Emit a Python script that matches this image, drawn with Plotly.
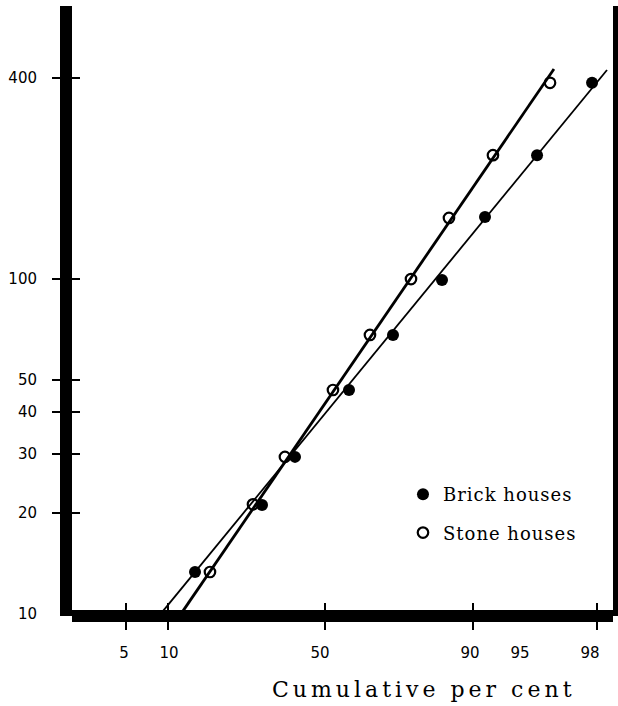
import plotly.graph_objects as go

# ---- data (x in normal-score units of probability paper, y = value on log scale)
brick_z = [-1.061, -0.514, -0.245, 0.196, 0.555, 0.955, 1.306, 1.731, 2.180]
brick_v = [13.3, 21.1, 29.4, 46.6, 68.1, 99.5, 153.5, 235, 387]
stone_z = [-0.939, -0.588, -0.327, 0.065, 0.367, 0.702, 1.012, 1.371, 1.837]
stone_v = [13.3, 21.2, 29.4, 46.6, 68.1, 100.1, 152.5, 235, 387]

# fitted straight lines
brick_fit_z = [-1.338, 2.302]
brick_fit_v = [10, 422.7]
stone_fit_z = [-1.173, 1.869]
stone_fit_v = [10, 425.6]

# axis labelling (probability paper)
x_label_pos = [-1.641, -1.273, -0.041, 1.184, 1.592, 2.163]
x_label_text = ["5", "10", "50", "90", "95", "98"]
x_tick_pos = [-1.624, -1.282, 0.0, 1.208, 2.220]
y_label_vals = [10, 20, 30, 40, 50, 100, 400]
y_label_text = ["10", "20", "30", "40", "50", "100", "400"]
y_tick_vals = [20, 30, 40, 50, 100, 400]

X_RANGE = [-2.0653, 2.351]
Y_RANGE = [0.99222, 2.81747]

fig = go.Figure()

fig.add_trace(go.Scatter(x=brick_fit_z, y=brick_fit_v, mode="lines",
                         line=dict(color="black", width=1.8), showlegend=False,
                         hoverinfo="skip"))
fig.add_trace(go.Scatter(x=stone_fit_z, y=stone_fit_v, mode="lines",
                         line=dict(color="black", width=2.8), showlegend=False,
                         hoverinfo="skip"))
fig.add_trace(go.Scatter(x=brick_z, y=brick_v, mode="markers",
                         name='<span style="letter-spacing:1px">Brick houses</span>',
                         legendgroup="a",
                         marker=dict(symbol="circle", size=12, color="black",
                                     line=dict(width=0))))
fig.add_trace(go.Scatter(x=stone_z, y=stone_v, mode="markers",
                         name='<span style="letter-spacing:1px">Stone houses</span>',
                         legendgroup="b",
                         marker=dict(symbol="circle-open", size=10.5, color="black",
                                     line=dict(width=2.2, color="black"))))

# empty traces so overlay axes exist
fig.add_trace(go.Scatter(x=[], y=[], xaxis="x2", yaxis="y", showlegend=False))
fig.add_trace(go.Scatter(x=[], y=[], xaxis="x3", yaxis="y", showlegend=False))
fig.add_trace(go.Scatter(x=[], y=[], xaxis="x", yaxis="y2", showlegend=False))
fig.add_trace(go.Scatter(x=[], y=[], xaxis="x", yaxis="y3", showlegend=False))

tickfont = dict(family="DejaVu Sans", size=15, color="black")
common = dict(showgrid=False, zeroline=False, showline=True, linewidth=12,
              linecolor="black", tickwidth=2)

fig.update_layout(
    width=618, height=706,
    margin=dict(l=72, r=5, t=6, b=90, autoexpand=False),
    paper_bgcolor="white", plot_bgcolor="white",
    showlegend=True,
    legend=dict(x=0.6118, y=0.2295, xanchor="left", yanchor="top",
                font=dict(family="DejaVu Serif", size=18, color="black"),
                bgcolor="rgba(0,0,0,0)", borderwidth=0,
                traceorder="grouped", tracegroupgap=12),
    xaxis=dict(range=X_RANGE, anchor="free", position=0,
               tickmode="array", tickvals=x_label_pos, ticktext=x_label_text,
               ticks="outside", ticklen=8, tickcolor="rgba(0,0,0,0)",
               tickfont=tickfont, ticklabelstandoff=10, **common),
    xaxis2=dict(range=X_RANGE, overlaying="x", anchor="free", position=0,
                tickmode="array", tickvals=x_tick_pos, ticks="outside", ticklen=8,
                tickcolor="black", showticklabels=False, **common),
    xaxis3=dict(range=X_RANGE, overlaying="x", anchor="free", position=0,
                tickmode="array", tickvals=x_tick_pos, ticks="inside", ticklen=7,
                tickcolor="black", showticklabels=False, **common),
    yaxis=dict(type="log", range=Y_RANGE, anchor="x", mirror=True,
               tickmode="array", tickvals=y_label_vals, ticktext=y_label_text,
               ticks="outside", ticklen=8, tickcolor="rgba(0,0,0,0)",
               tickfont=tickfont, ticklabelstandoff=12, **common),
    yaxis2=dict(type="log", range=Y_RANGE, overlaying="y", anchor="x", side="left",
                tickmode="array", tickvals=y_tick_vals, ticks="outside", ticklen=8,
                tickcolor="black", showticklabels=False, **common),
    yaxis3=dict(type="log", range=Y_RANGE, overlaying="y", anchor="x", side="left",
                tickmode="array", tickvals=y_tick_vals, ticks="inside", ticklen=8,
                tickcolor="black", showticklabels=False, **common),
    annotations=[dict(
        text='<span style="letter-spacing:4px">Cumulative per cent</span>',
        xref="paper", yref="paper", x=0.649, y=-0.1213,
        xanchor="center", yanchor="middle", showarrow=False,
        font=dict(family="DejaVu Serif", size=22, color="black"))],
)

fig.write_html("out.html")
